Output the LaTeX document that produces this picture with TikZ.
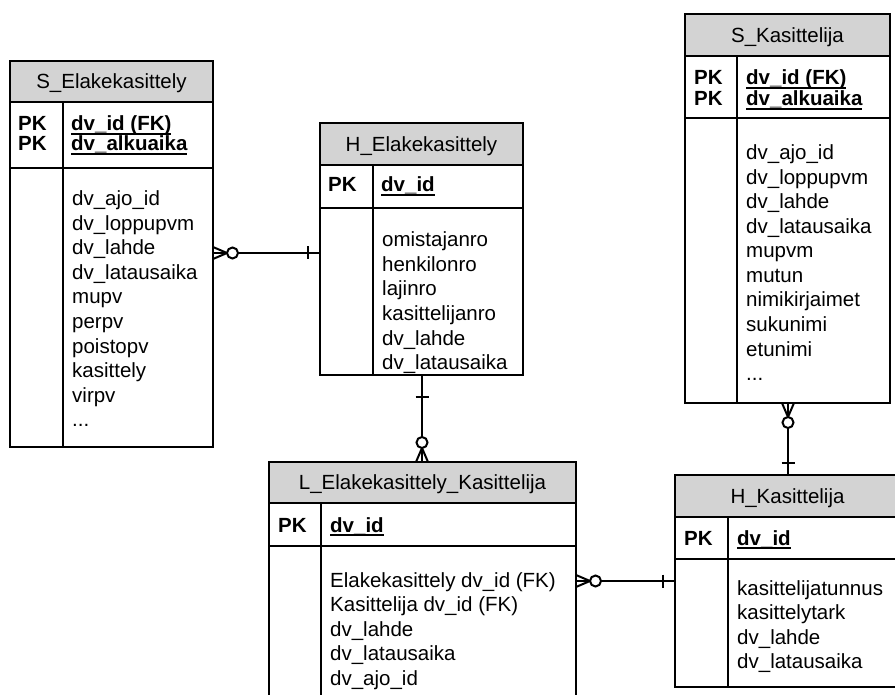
\documentclass[tikz,border=0pt]{standalone}
\usepackage{fontspec}
\setmainfont{Liberation Sans}
\usetikzlibrary{calc}

\definecolor{hdrgray}{RGB}{211,211,211}

% bold key field with a heavy underline at underscore level
\newcommand\keyline[1]{\setbox0\hbox{\bfseries #1}\rlap{\rule[-3.6pt]{\wd0}{1.9pt}}\box0}
% trailing ellipsis row of a column list
\newcommand\moreattrs{...}

% table frame: #1 name, #2 left, #3 top, #4 right, #5 bottom,
% #6 header bottom, #7 key section bottom, #8 column divider, #9 title
\newcommand\ertable[9]{%
  \node[boxarea, minimum width={(#4-#2)*1pt}, minimum height={(#5-#3)*1pt}]
    (#1) at ({(#2+#4)/2},{(#3+#5)/2}) {};
  \fill[hdrgray] (#1.north west) rectangle (#1.east |- 0,#6);
  \draw[frame] (#1.west |- 0,#6) -- (#1.east |- 0,#6);
  \draw[frame] (#1.west |- 0,#7) -- (#1.east |- 0,#7);
  \draw[frame] (#8,#6) -- (#1.south -| #8,0);
  \draw[frame] (#1.north west) rectangle (#1.south east);
  \node[titletext] (#1-title) at ({(#2+#4)/2},{#6-13.5}) {#9};
}

% zero-or-many end: crow's foot at the box, open circle beyond it
\newcommand\manyopt[2]{%
  \begin{scope}[shift={(#1)}, rotate=#2]
    \draw[rel] (0,6) -- (14,0) -- (0,-6);
    \draw[rel, fill=white] (19.5,0) circle (5.5);
  \end{scope}}
% exactly-one bar across the connector
\newcommand\onebar[2]{%
  \begin{scope}[shift={(#1)}, rotate=#2]
    \draw[rel] (0,-6.5) -- (0,6.5);
  \end{scope}}

\tikzset{
  boxarea/.style={rectangle, inner sep=0pt, outer sep=0pt, fill=white},
  frame/.style={draw=black, line width=1.6pt},
  rel/.style={draw=black, line width=2pt},
  titletext/.style={inner sep=0pt, anchor=base, font=\fontsize{20.5}{24}\selectfont},
  pktext/.style={inner sep=0pt, anchor=base west, font=\fontsize{20.5}{24}\selectfont\bfseries},
  keytext/.style={inner sep=0pt, anchor=base west, font=\fontsize{20.5}{24}\selectfont},
  attrtext/.style={inner sep=0pt, anchor=base west, font=\fontsize{20.5}{24}\selectfont},
}

\begin{document}
\begin{tikzpicture}[x=1pt, y=-1pt]
  \useasboundingbox (0,0) rectangle (895,695);
  \clip (0,0) rectangle (895,695);
  \fill[white] (0,0) rectangle (895,695);

  % ---------- S_Elakekasittely ----------
  \ertable{se}{10}{61}{213}{447}{102}{168}{63}{S\_Elakekasittely}
  \node[pktext] (se-pk1) at (18,131) {PK};
  \node[pktext] (se-pk2) at (18,151) {PK};
  \node[keytext] (se-k1) at (71,131) {\keyline{dv\_id (FK)}};
  \node[keytext] (se-k2) at (71,151) {\keyline{dv\_alkuaika}};
  \foreach \t [count=\i from 0] in {dv\_ajo\_id, dv\_loppupvm, dv\_lahde,
      dv\_latausaika, mupv, perpv, poistopv, kasittely, virpv, \moreattrs}
    \node[attrtext] (se-a\i) at (72,206+\i*24.5) {\t};

  % ---------- H_Elakekasittely ----------
  \ertable{he}{320}{123}{523}{375}{165}{208}{373}{H\_Elakekasittely}
  \node[pktext] (he-pk1) at (328,192) {PK};
  \node[keytext] (he-k1) at (381,192) {\keyline{dv\_id}};
  \foreach \t [count=\i from 0] in {omistajanro, henkilonro, lajinro,
      kasittelijanro, dv\_lahde, dv\_latausaika}
    \node[attrtext] (he-a\i) at (382,247+\i*24.5) {\t};

  % ---------- L_Elakekasittely_Kasittelija ----------
  \ertable{lk}{269}{462}{576}{710}{503}{546}{321}{L\_Elakekasittely\_Kasittelija}
  \node[pktext] (lk-pk1) at (278,532) {PK};
  \node[keytext] (lk-k1) at (330,532) {\keyline{dv\_id}};
  \foreach \t [count=\i from 0] in {Elakekasittely dv\_id (FK),
      Kasittelija dv\_id (FK), dv\_lahde, dv\_latausaika, dv\_ajo\_id}
    \node[attrtext] (lk-a\i) at (330,587+\i*24.5) {\t};

  % ---------- H_Kasittelija ----------
  \ertable{hk}{675}{475}{900}{687}{517}{559}{728}{H\_Kasittelija}
  \node[pktext] (hk-pk1) at (684,545) {PK};
  \node[keytext] (hk-k1) at (737,545) {\keyline{dv\_id}};
  \foreach \t [count=\i from 0] in {kasittelijatunnus, kasittelytark,
      dv\_lahde, dv\_latausaika}
    \node[attrtext] (hk-a\i) at (737,595+\i*24.5) {\t};

  % ---------- S_Kasittelija ----------
  \ertable{sk}{685}{14}{890}{403}{56}{118}{737}{S\_Kasittelija}
  \node[pktext] (sk-pk1) at (694,85) {PK};
  \node[pktext] (sk-pk2) at (694,106) {PK};
  \node[keytext] (sk-k1) at (746,85) {\keyline{dv\_id (FK)}};
  \node[keytext] (sk-k2) at (746,106) {\keyline{dv\_alkuaika}};
  \foreach \t [count=\i from 0] in {dv\_ajo\_id, dv\_loppupvm, dv\_lahde,
      dv\_latausaika, mupvm, mutun, nimikirjaimet, sukunimi, etunimi, \moreattrs}
    \node[attrtext] (sk-a\i) at (746,160+\i*24.5) {\t};

  % ---------- relationships ----------
  % S_Elakekasittely >o----| H_Elakekasittely
  \draw[rel] (se.east |- 0,253) -- (he.west |- 0,253);
  \manyopt{se.east |- 0,253}{0}
  \onebar{$(he.west |- 0,253)+(-12,0)$}{0}

  % H_Elakekasittely |----o< L_Elakekasittely_Kasittelija
  \draw[rel] (he.south -| 422,0) -- (lk.north -| 422,0);
  \onebar{$(he.south -| 422,0)+(0,22)$}{90}
  \manyopt{lk.north -| 422,0}{90}

  % L_Elakekasittely_Kasittelija >o----| H_Kasittelija
  \draw[rel] (lk.east |- 0,581) -- (hk.west |- 0,581);
  \manyopt{lk.east |- 0,581}{0}
  \onebar{$(hk.west |- 0,581)+(-12,0)$}{0}

  % S_Kasittelija >o----| H_Kasittelija
  \draw[rel] (sk.south -| 788,0) -- (hk.north -| 788,0);
  \manyopt{sk.south -| 788,0}{-90}
  \onebar{$(hk.north -| 788,0)+(0,-12)$}{90}
\end{tikzpicture}
\end{document}
